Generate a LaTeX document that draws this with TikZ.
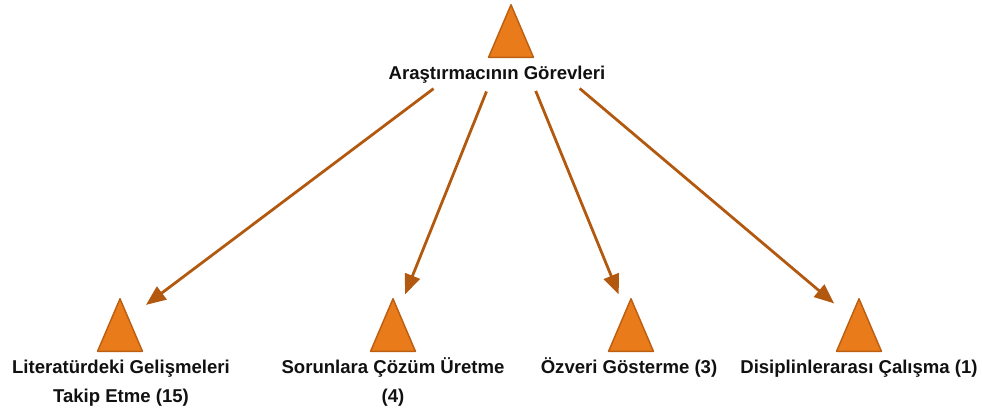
\documentclass[tikz,border=0pt]{standalone}
\usepackage{fontspec}
\setmainfont{Liberation Sans}
\usetikzlibrary{arrows.meta,shapes.geometric,calc}
\definecolor{rust}{HTML}{B3590F}
\definecolor{tangerine}{HTML}{E97B1B}
\definecolor{ember}{HTML}{BC5F12}
\definecolor{ink}{HTML}{111111}

\begin{document}
\begin{tikzpicture}[
  x=0.0265cm,
  y=-0.0265cm,
  tri/.style={isosceles triangle,isosceles triangle stretches,shape border rotate=90,
    minimum width=33.8pt,minimum height=39.6pt,inner sep=0pt,anchor=lower side,
    fill=tangerine,draw=ember,line width=1.1pt,line join=round},
  roottext/.style={font=\bfseries\fontsize{14}{21.8}\selectfont,color=ink,anchor=base,inner sep=0pt},
  leaftext/.style={font=\bfseries\fontsize{14}{21.8}\selectfont,color=ink,align=center,anchor=base,inner sep=0pt},
  link/.style={draw=rust,line width=2.1pt,-{Triangle[length=15pt,width=12pt]}}
]
\useasboundingbox (0,0) rectangle (982,414);

% Root task
\node[tri] (rootmark) at (511,58) {};
\node[roottext] (root) at (497,79) {Araştırmacının Görevleri};

% Leaf tasks
\node[tri] (litmark) at (120,352) {};
\node[leaftext] (lit) at (121,402) {Literatürdeki Gelişmeleri\\Takip Etme (15)};

\node[tri] (solvemark) at (393,352) {};
\node[leaftext] (solve) at (393,402) {Sorunlara Çözüm Üretme\\(4)};

\node[tri] (devmark) at (631,352) {};
\node[leaftext] (dev) at (629,373) {Özveri Gösterme (3)};

\node[tri] (intermark) at (859,352) {};
\node[leaftext] (inter) at (859,373) {Disiplinlerarası Çalışma (1)};

% Links, aimed between the triangles' mid-heights
\foreach \leaf/\gap in {lit/73.1,solve/49.6,dev/49.3,inter/67.8}{
  \draw[link,shorten <=\gap pt,shorten >=24.5pt]
    ($(rootmark.apex)!.5!(rootmark.lower side)$) -- ($(\leaf mark.apex)!.5!(\leaf mark.lower side)$);
}

\end{tikzpicture}
\end{document}
